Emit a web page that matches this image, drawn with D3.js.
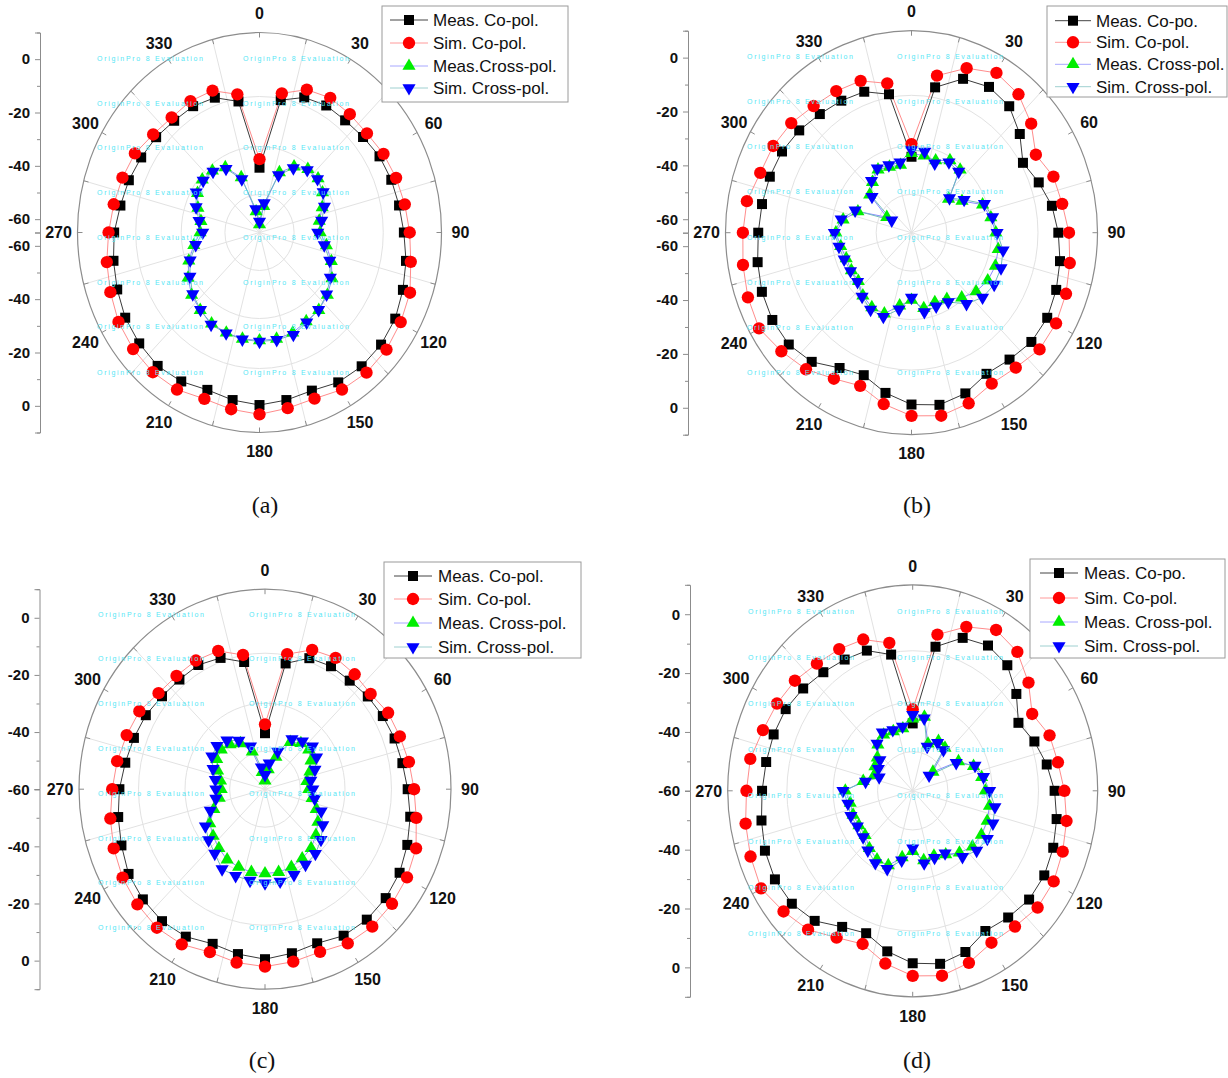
<!DOCTYPE html>
<html>
<head>
<meta charset="utf-8">
<script src="https://cdn.jsdelivr.net/npm/d3@7"></script>
<style>
  body { margin: 0; background: #fff; }
  svg { display: block; font-family: "Liberation Sans", Arial, sans-serif; }
</style>
</head>
<body>
<svg id="chart" width="1228" height="1078"></svg>
<script>
// angles (deg) of every sample
var angles = [0,10,20,30,40,50,60,70,80,90,100,110,120,130,140,150,160,170,
              180,190,200,210,220,230,240,250,260,270,280,290,300,310,320,330,340,350];

// ---- panel (a) ----
var aMeasCo = [-40.7,-14.6,-11.1,-10.0,-10.1,-9.3,-7.9,-7.2,-6.6,-5.5,-3.7,-2.1,-0.4,0.4,0.5,-0.1,-1.9,-1.2,
               -0.3,-1.2,-2.2,-0.5,0.3,-0.3,-1.1,-2.6,-3.9,-5.1,-6.8,-7.7,-8.7,-9.4,-10.3,-10.3,-11.2,-15.1];
var aSimCo  = [-37.5,-12.0,-8.0,-6.7,-7.1,-7.2,-6.0,-5.1,-4.2,-3.1,-1.7,1.0,2.2,3.3,3.6,3.0,1.3,1.9,
               3.2,2.3,1.4,3.0,3.4,3.0,2.1,0.4,-1.1,-2.8,-4.0,-4.9,-5.7,-7.8,-8.7,-8.1,-8.4,-12.4];
var aMeasX  = [-62,-55,-41,-36.5,-34,-33.5,-35,-37.5,-40,-40,-37,-33.5,-30.5,-28.5,-27,-26.5,-25,-24.5,
               -24.5,-24.5,-25,-25.5,-27,-28.5,-31,-34,-37.5,-40.5,-40.5,-38,-35.5,-34.2,-34.8,-36.8,-43,-57];
var aSimX   = [-60.9,-53.8,-42.1,-37.1,-34.4,-33.8,-34.7,-36.5,-39.0,-41.0,-37.9,-34.2,-31.3,-28.9,-27.1,-26.1,-24.2,-24.1,
               -24.1,-24.3,-24.8,-25.1,-27.2,-29.1,-31.9,-34.6,-38.3,-41.6,-39.7,-37.2,-34.9,-34.7,-35.2,-37.4,-43.7,-56.1];

// ---- panel (b) ----
var bMeasCo = [-36.8,-10.2,-4.2,-2.5,-3.7,-8.0,-13.1,-10.4,-7.5,-5.8,-4.2,-2.9,-1.8,-1.9,-3.5,-4.5,-1.5,-0.1,
               -1.2,-4.6,-8.7,-7.0,-2.4,-0.4,-0.2,-0.8,-2.0,-3.2,-3.8,-4.2,-4.7,-5.9,-7.5,-8.4,-9.3,-12.8];
var bSimCo  = [-32.1,-5.8,0.0,3.5,2.1,-2.0,-7.1,-4.1,-3.3,-1.5,-0.2,1.3,2.3,2.4,0.4,-0.3,2.4,4.0,
               3.0,-0.4,-4.5,-2.4,1.2,3.5,6.0,5.2,4.0,3.0,2.4,-0.1,-0.6,-1.7,-3.6,-4.3,-5.0,-8.7];
var bMeasX  = [-35.5,-36,-36.5,-34,-34.5,-45.5,-41.5,-34.5,-32.5,-31,-29.5,-29,-29.5,-31,-33.5,-36.5,-37.5,-36.5,
               -40,-37.5,-33,-33,-34.5,-37,-37,-37,-36,-34.5,-37,-42,-53.5,-43,-40.5,-38,-39,-39.5];
var bSimX   = [-34.3,-34.4,-37.6,-34.8,-35.4,-45.0,-40.5,-33.7,-31.8,-30.5,-27.5,-26.6,-26.5,-27.6,-30.5,-35.3,-35.9,-35.1,
               -40.9,-36.1,-31.8,-32.0,-34.0,-36.6,-36.6,-36.1,-35.3,-33.9,-36.2,-40.8,-55.8,-44.2,-39.9,-37.4,-38.3,-38.5];

// ---- panel (c) ----
var cMeasCo = [-40.4,-15.3,-11.2,-10.3,-10.4,-9.5,-8.8,-8.1,-7.5,-6.3,-4.5,-3.0,-1.5,-0.7,-0.4,-0.8,-2.6,-1.7,
               -0.5,-1.4,-2.4,-0.4,0.3,0.0,-0.7,-2.5,-3.9,-5.2,-6.6,-7.5,-8.2,-9.4,-9.9,-9.8,-11.1,-14.8];
var cSimCo  = [-37.3,-12.0,-8.1,-6.9,-7.5,-8.1,-6.5,-6.0,-5.0,-3.9,-2.2,0.5,1.7,2.4,2.8,2.3,0.6,1.3,
               2.1,1.6,0.7,2.7,3.3,2.7,1.9,0.6,-0.9,-2.5,-3.5,-4.6,-5.4,-7.7,-8.2,-8.0,-8.5,-12.3];
var cMeasX  = [-57,-53,-48,-41,-39,-38.5,-40,-42,-44,-43.5,-42,-39.5,-37,-35,-33,-32,-31,-30.5,
               -30.5,-30.5,-31,-31.5,-33,-34.5,-36,-39.5,-42.5,-43.5,-43,-41,-39,-38.5,-39.5,-41.5,-46,-54];
var cSimX   = [-55,-50.8,-46,-39.7,-38.1,-36.7,-37.6,-40,-42.5,-42,-41,-37.5,-34.9,-32.5,-30.5,-29.5,-28.1,-27.2,
               -27.1,-27.5,-27.7,-27.7,-30.6,-32.3,-34.1,-38.1,-41.2,-41.5,-41,-39.2,-36.9,-36.4,-37.7,-40.3,-44,-52.2];

// ---- panel (d) ----
var dMeasCo = [-37.1,-10.3,-4.7,-3.0,-4.3,-8.8,-13.8,-11.0,-8.5,-6.3,-4.7,-3.4,-2.5,-2.5,-3.8,-5.0,-1.7,-0.3,
               -1.4,-4.6,-8.5,-6.6,-2.3,-0.3,0.2,-0.5,-1.9,-3.0,-3.7,-4.0,-4.5,-5.9,-7.4,-8.5,-9.3,-13.0];
var dSimCo  = [-32.3,-6.1,-0.7,3.1,1.6,-2.8,-7.8,-4.9,-4.2,-2.6,-0.9,0.4,1.6,1.7,0.2,-0.4,2.2,3.8,
               2.9,-0.4,-4.6,-2.4,1.6,3.8,6.3,5.3,4.2,2.9,2.4,0.3,-0.7,-1.8,-3.6,-4.4,-5.3,-9.0];
var dMeasX  = [-35.5,-34.5,-43,-40.5,-41,-50,-40,-35.5,-33.5,-32.5,-30.5,-30,-30,-30.5,-32.5,-35,-36.5,-36,
               -39.5,-37,-33,-33,-34.5,-36.5,-36.5,-36,-36,-34.5,-41,-44.5,-43.5,-42.5,-39.5,-38,-38.5,-38.5];
var dSimX   = [-34.2,-35.0,-44.0,-41.2,-41.9,-51.9,-41.0,-34.9,-32.8,-30.9,-28.4,-27.7,-27.4,-28.4,-30.7,-35.5,-35.8,-35.0,
               -40.5,-36.0,-31.8,-31.7,-33.6,-35.5,-35.8,-35.1,-35.1,-33.6,-41.9,-46.5,-45,-43.8,-39.0,-37.0,-38.0,-37.8];

var angleLabels = [0,30,60,90,120,150,180,210,240,270,300,330];
var radialMajor = [-60,-40,-20,0];
var radialMinor = [-50,-30,-10,10];

var panels = [
  { cx:259.5, cy:232.5, rx:182, ry:200, rMin:-65, axisX:40,
    data:[aMeasCo,aSimCo,aMeasX,aSimX],
    names:["Meas. Co-pol.","Sim. Co-pol.","Meas.Cross-pol.","Sim. Cross-pol."],
    legend:{x:382, y:6, w:186, h:96, rows:[20,43,66,88], l0:390, l1:428, tx:433},
    wmX:[97,243], wmY:[59,104,148,193,238,283,327,373],
    cap:{x:265, y:505, t:"(a)"} },
  { cx:911.5, cy:232.7, rx:186, ry:202, rMin:-65, axisX:688,
    data:[bMeasCo,bSimCo,bMeasX,bSimX],
    names:["Meas. Co-po.","Sim. Co-pol.","Meas. Cross-pol.","Sim. Cross-pol."],
    legend:{x:1047, y:6, w:180, h:91, rows:[20.7,42.3,64.3,86.7], l0:1055, l1:1091, tx:1096},
    wmX:[747,897], wmY:[57,102,147,192,238,283,328,373],
    cap:{x:917, y:505, t:"(b)"} },
  { cx:265, cy:789.2, rx:186, ry:200, rMin:-60, axisX:39.5,
    data:[cMeasCo,cSimCo,cMeasX,cSimX],
    names:["Meas. Co-pol.","Sim. Co-pol.","Meas. Cross-pol.","Sim. Cross-pol."],
    legend:{x:384, y:562, w:197, h:96, rows:[576,599,623,647], l0:394, l1:432, tx:438},
    wmX:[98,249], wmY:[615,659,704,749,794,839,883,928],
    cap:{x:262, y:1060, t:"(c)"} },
  { cx:912.7, cy:790.8, rx:185, ry:206, rMin:-60, axisX:690,
    data:[dMeasCo,dSimCo,dMeasX,dSimX],
    names:["Meas. Co-po.","Sim. Co-pol.","Meas. Cross-pol.","Sim. Cross-pol."],
    legend:{x:1030, y:559, w:195, h:99, rows:[573,598,622,646], l0:1040, l1:1078, tx:1084},
    wmX:[748,897], wmY:[612,658,704,750,796,842,888,934],
    cap:{x:917, y:1060, t:"(d)"} }
];

// marker / line styles of the four series
var styles = [
  { fill:"#000000", line:"#3a3a3a", legendLine:"#444", sym:d3.symbolSquare,   size:100, rot:0 },
  { fill:"#ff0000", line:"#ff8c8c", legendLine:"#ff9a9a", sym:d3.symbolCircle,   size:120, rot:0 },
  { fill:"#00ee00", line:"#8a8aff", legendLine:"#a8a8ff", sym:d3.symbolTriangle, size:75,  rot:0 },
  { fill:"#0000ff", line:"#6fbcbc", legendLine:"#9fd0d0", sym:d3.symbolTriangle, size:75,  rot:180 }
];

var svg = d3.select("#chart");
svg.append("rect").attr("width", 1228).attr("height", 1078).attr("fill", "#fff");

var gridFrac = [0.19, 0.43, 0.68];

function drawPanel(p) {
  var rad = d3.scaleLinear().domain([p.rMin, 10]).range([0, 1]);
  var px = function(a, v) { return Math.sin(a * Math.PI / 180) * rad(v) * p.rx; };
  var py = function(a, v) { return -Math.cos(a * Math.PI / 180) * rad(v) * p.ry; };

  var g = svg.append("g").attr("transform", "translate(" + p.cx + "," + p.cy + ")");

  // grid ellipses
  gridFrac.forEach(function(f) {
    g.append("ellipse").attr("rx", p.rx * f).attr("ry", p.ry * f)
      .attr("fill", "none").attr("stroke", "#e2e2e2").attr("stroke-width", 1);
  });
  // spokes
  d3.range(15, 360, 30).forEach(function(a) {
    g.append("line").attr("x1", 0).attr("y1", 0)
      .attr("x2", px(a, 10)).attr("y2", py(a, 10))
      .attr("stroke", "#e2e2e2").attr("stroke-width", 1);
  });
  // outer ring
  g.append("ellipse").attr("rx", p.rx).attr("ry", p.ry)
    .attr("fill", "none").attr("stroke", "#8c8c8c").attr("stroke-width", 1.2);
  // angular ticks every 15 deg
  d3.range(0, 360, 15).forEach(function(a) {
    var s = Math.sin(a * Math.PI / 180), c = Math.cos(a * Math.PI / 180);
    g.append("line")
      .attr("x1", s * p.rx).attr("y1", -c * p.ry)
      .attr("x2", s * (p.rx - 5)).attr("y2", -c * (p.ry - 5))
      .attr("stroke", "#8c8c8c").attr("stroke-width", 1);
  });
  // angular labels
  angleLabels.forEach(function(a) {
    var s = Math.sin(a * Math.PI / 180), c = Math.cos(a * Math.PI / 180);
    g.append("text")
      .attr("x", s * (p.rx + 19)).attr("y", -c * (p.ry + 19))
      .attr("dy", "0.36em")
      .attr("text-anchor", "middle")
      .attr("font-size", "16px").attr("font-weight", "bold").attr("fill", "#111")
      .text(a);
  });

  // watermark
  p.wmY.forEach(function(y) {
    p.wmX.forEach(function(x) {
      svg.append("text").attr("x", x).attr("y", y).attr("dy", "0.35em")
        .attr("font-size", "7px").attr("fill", "#55e6f5")
        .attr("textLength", 106).attr("lengthAdjust", "spacing")
        .text("OriginPro 8 Evaluation");
    });
  });

  // series: lines first, then markers
  var line = d3.line()
    .x(function(d, i) { return px(angles[i], d); })
    .y(function(d, i) { return py(angles[i], d); })
    .curve(d3.curveLinearClosed);

  p.data.forEach(function(vals, k) {
    g.append("path").datum(vals).attr("d", line)
      .attr("fill", "none").attr("stroke", styles[k].line).attr("stroke-width", 1);
  });
  p.data.forEach(function(vals, k) {
    var st = styles[k];
    g.selectAll(null).data(vals).enter().append("path")
      .attr("d", d3.symbol().type(st.sym).size(st.size))
      .attr("transform", function(d, i) {
        return "translate(" + px(angles[i], d) + "," + py(angles[i], d) + ") rotate(" + st.rot + ")";
      })
      .attr("fill", st.fill);
  });

  // legend
  var L = p.legend;
  svg.append("rect").attr("x", L.x).attr("y", L.y).attr("width", L.w).attr("height", L.h)
    .attr("fill", "#fff").attr("stroke", "#9a9a9a").attr("stroke-width", 1);
  p.names.forEach(function(name, k) {
    var st = styles[k], y = L.rows[k], mx = (L.l0 + L.l1) / 2;
    svg.append("line").attr("x1", L.l0).attr("x2", L.l1).attr("y1", y).attr("y2", y)
      .attr("stroke", st.legendLine).attr("stroke-width", 1);
    svg.append("path").attr("d", d3.symbol().type(st.sym).size(st.size))
      .attr("transform", "translate(" + mx + "," + y + ") rotate(" + st.rot + ")")
      .attr("fill", st.fill);
    svg.append("text").attr("x", L.tx).attr("y", y).attr("dy", "0.36em")
      .attr("font-size", "17px").attr("fill", "#111").text(name);
  });

  // radial axis on the left (mirrored above and below centre)
  var yTop = d3.scaleLinear().domain([p.rMin, 10]).range([p.cy, p.cy - p.ry]);
  var yBot = d3.scaleLinear().domain([p.rMin, 10]).range([p.cy, p.cy + p.ry]);
  var majTop = radialMajor.slice();
  var majBot = radialMajor.filter(function(v) { return yBot(v) - p.cy > 8; });
  [[yTop, majTop], [yBot, majBot]].forEach(function(pair) {
    var ax = svg.append("g").attr("transform", "translate(" + p.axisX + ",0)")
      .call(d3.axisLeft(pair[0]).tickValues(pair[1]).tickSize(5).tickPadding(5)
        .tickFormat(function(d) { return d; }));
    ax.select(".domain").attr("stroke", "#8c8c8c");
    ax.selectAll(".tick line").attr("stroke", "#8c8c8c");
    ax.selectAll(".tick text").attr("font-size", "15px").attr("font-weight", "bold")
      .attr("font-family", "Liberation Sans, Arial, sans-serif").attr("fill", "#111");
    var mn = svg.append("g").attr("transform", "translate(" + p.axisX + ",0)")
      .call(d3.axisLeft(pair[0]).tickValues(radialMinor).tickSize(3).tickFormat(""));
    mn.select(".domain").remove();
    mn.selectAll(".tick line").attr("stroke", "#8c8c8c");
  });

  // caption
  svg.append("text").attr("x", p.cap.x).attr("y", p.cap.y).attr("dy", "0.35em")
    .attr("text-anchor", "middle").attr("font-family", "Liberation Serif, DejaVu Serif, serif")
    .attr("font-size", "24px").attr("fill", "#111").text(p.cap.t);
}

panels.forEach(drawPanel);
</script>
</body>
</html>
